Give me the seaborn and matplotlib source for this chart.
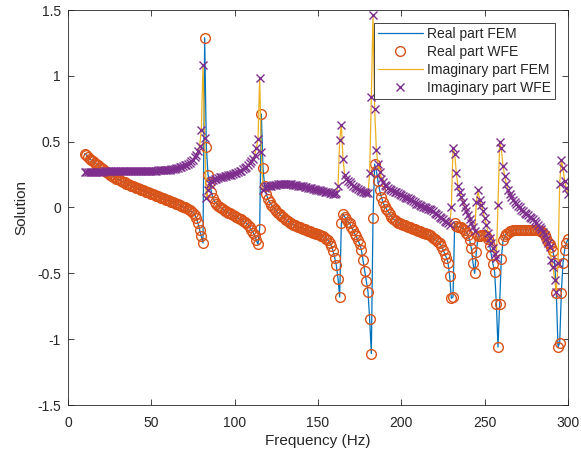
import numpy as np
import matplotlib
matplotlib.use('Agg')
import matplotlib.pyplot as plt
import seaborn as sns

# sampling grid: 10 Hz to 300 Hz, 1 Hz step
freq_hz = np.arange(10, 301)

# real part (FEM line and WFE circles lie on top of each other)
real_part = [
    0.41, 0.40, 0.385, 0.37, 0.36, 0.35, 0.34, 0.33, 0.32, 0.31,
    0.30, 0.29, 0.28, 0.27, 0.26, 0.25, 0.245, 0.235, 0.23, 0.22,
    0.215, 0.21, 0.20, 0.195, 0.19, 0.18, 0.175, 0.17, 0.165, 0.16,
    0.155, 0.15, 0.145, 0.14, 0.135, 0.13, 0.125, 0.12, 0.115, 0.11,
    0.105, 0.10, 0.095, 0.09, 0.085, 0.08, 0.075, 0.07, 0.065, 0.06,
    0.055, 0.05, 0.045, 0.04, 0.035, 0.03, 0.025, 0.02, 0.01, 0.005,
    0.0, -0.005, -0.01, -0.02, -0.03, -0.04, -0.055, -0.08, -0.12, -0.17,
    -0.22, -0.27, 1.29, 0.46, 0.25, 0.19, 0.12, 0.07, 0.045, 0.03,
    0.015, 0.005, -0.005, -0.015, -0.025, -0.03, -0.04, -0.045, -0.05, -0.06,
    -0.065, -0.07, -0.08, -0.085, -0.09, -0.10, -0.11, -0.12, -0.13, -0.15,
    -0.17, -0.19, -0.21, -0.25, -0.28, -0.16, 0.71, 0.30, 0.16, 0.10,
    0.065, 0.04, 0.02, 0.005, -0.01, -0.025, -0.04, -0.05, -0.065, -0.075,
    -0.085, -0.095, -0.105, -0.115, -0.12, -0.13, -0.135, -0.14, -0.145, -0.15,
    -0.155, -0.16, -0.165, -0.17, -0.175, -0.18, -0.185, -0.19, -0.195, -0.20,
    -0.205, -0.21, -0.215, -0.22, -0.23, -0.24, -0.25, -0.27, -0.29, -0.33,
    -0.38, -0.44, -0.54, -0.68, -0.12, -0.05, -0.07, -0.09, -0.11, -0.12,
    -0.15, -0.17, -0.20, -0.22, -0.25, -0.28, -0.32, -0.40, -0.48, -0.56,
    -0.64, -0.85, -1.11, -0.08, 0.33, 0.28, 0.20, 0.13, 0.08, 0.04,
    0.01, -0.01, -0.03, -0.05, -0.07, -0.085, -0.095, -0.105, -0.115, -0.12,
    -0.125, -0.13, -0.135, -0.14, -0.145, -0.15, -0.155, -0.16, -0.165, -0.17,
    -0.175, -0.18, -0.185, -0.19, -0.195, -0.20, -0.205, -0.21, -0.22, -0.23,
    -0.24, -0.25, -0.26, -0.27, -0.29, -0.32, -0.35, -0.38, -0.42, -0.52,
    -0.69, -0.68, -0.12, -0.14, -0.145, -0.15, -0.15, -0.16, -0.17, -0.19,
    -0.21, -0.25, -0.31, -0.42, -0.50, -0.34, -0.22, -0.22, -0.21, -0.21,
    -0.21, -0.22, -0.24, -0.29, -0.36, -0.43, -0.49, -0.73, -1.06, -0.73,
    -0.39, -0.25, -0.22, -0.20, -0.19, -0.18, -0.175, -0.17, -0.17, -0.17,
    -0.17, -0.17, -0.17, -0.17, -0.17, -0.17, -0.17, -0.17, -0.17, -0.17,
    -0.17, -0.17, -0.17, -0.175, -0.18, -0.19, -0.21, -0.23, -0.26, -0.28,
    -0.30, -0.33, -0.42, -0.65, -1.06, -1.03, -0.65, -0.42, -0.32, -0.27,
    -0.24,
]

# imaginary part (FEM line and WFE crosses)
imag_part = [
    0.27, 0.27, 0.27, 0.27, 0.27, 0.27, 0.27, 0.27, 0.27, 0.27,
    0.272, 0.272, 0.274, 0.274, 0.275, 0.275, 0.275, 0.276, 0.276, 0.276,
    0.277, 0.277, 0.278, 0.278, 0.278, 0.279, 0.279, 0.279, 0.28, 0.28,
    0.28, 0.28, 0.28, 0.28, 0.28, 0.28, 0.28, 0.28, 0.28, 0.28,
    0.28, 0.28, 0.281, 0.281, 0.282, 0.282, 0.283, 0.283, 0.284, 0.285,
    0.286, 0.288, 0.29, 0.292, 0.295, 0.298, 0.30, 0.305, 0.31, 0.315,
    0.32, 0.325, 0.33, 0.34, 0.35, 0.36, 0.38, 0.40, 0.43, 0.47,
    0.59, 1.08, 0.53, 0.07, 0.13, 0.18, 0.20, 0.21, 0.215, 0.22,
    0.225, 0.23, 0.23, 0.235, 0.24, 0.24, 0.245, 0.25, 0.25, 0.255,
    0.26, 0.26, 0.27, 0.275, 0.28, 0.29, 0.30, 0.31, 0.32, 0.335,
    0.35, 0.37, 0.40, 0.45, 0.52, 0.985, 0.42, 0.13, 0.15, 0.16,
    0.163, 0.165, 0.167, 0.17, 0.172, 0.174, 0.176, 0.178, 0.18, 0.18,
    0.18, 0.18, 0.18, 0.178, 0.176, 0.174, 0.172, 0.17, 0.167, 0.165,
    0.162, 0.16, 0.157, 0.154, 0.151, 0.148, 0.145, 0.142, 0.139, 0.136,
    0.133, 0.13, 0.127, 0.124, 0.121, 0.118, 0.115, 0.112, 0.11, 0.105,
    0.10, 0.11, 0.16, 0.51, 0.63, 0.37, 0.25, 0.22, 0.20, 0.19,
    0.175, 0.165, 0.155, 0.145, 0.14, 0.13, 0.125, 0.12, 0.115, 0.11,
    0.11, 0.26, 0.84, 1.46, 0.75, 0.44, 0.33, 0.27, 0.22, 0.19,
    0.17, 0.16, 0.15, 0.14, 0.13, 0.125, 0.12, 0.115, 0.11, 0.10,
    0.095, 0.09, 0.08, 0.075, 0.07, 0.065, 0.055, 0.05, 0.04, 0.03,
    0.025, 0.02, 0.01, 0.005, 0.0, -0.005, -0.01, -0.015, -0.02, -0.03,
    -0.04, -0.05, -0.06, -0.07, -0.08, -0.09, -0.10, -0.11, -0.12, -0.13,
    0.0, 0.45, 0.41, 0.26, 0.16, 0.12, 0.08, 0.04, 0.006, -0.025,
    -0.057, -0.09, -0.12, -0.15, -0.18, 0.04, 0.13, 0.06, 0.02, -0.03,
    -0.08, -0.13, -0.19, -0.23, -0.27, -0.31, -0.35, -0.38, 0.02, 0.50,
    0.45, 0.315, 0.24, 0.18, 0.13, 0.10, 0.08, 0.057, 0.04, 0.03,
    0.01, 0.0, -0.02, -0.03, -0.04, -0.05, -0.06, -0.07, -0.08, -0.09,
    -0.10, -0.115, -0.13, -0.146, -0.165, -0.185, -0.21, -0.24, -0.27, -0.30,
    -0.40, -0.45, -0.55, -0.64, -0.42, 0.18, 0.36, 0.30, 0.20, 0.15,
    0.10,
]

x_ticks = [0, 50, 100, 150, 200, 250, 300]
y_ticks = [-1.5, -1, -0.5, 0, 0.5, 1, 1.5]
y_tick_labels = ['-1.5', '-1', '-0.5', '0', '0.5', '1', '1.5']

# matlab default colours
BLUE = '#0072BD'
ORANGE = '#D95319'
YELLOW = '#EDB120'
PURPLE = '#7E2F8E'
AX_GREY = '#262626'


def main():
    sns.set_style('ticks')
    plt.rcParams['font.family'] = ['Liberation Sans', 'DejaVu Sans']

    fig = plt.figure(figsize=(5.81, 4.61), dpi=100)
    ax = fig.add_axes([68 / 581, 56 / 461, 500 / 581, 395 / 461])

    sns.lineplot(x=freq_hz, y=real_part, ax=ax, color=BLUE, lw=0.9,
                 sort=False, errorbar=None, label='Real part FEM')
    sns.lineplot(x=freq_hz, y=real_part, ax=ax, color=ORANGE,
                 linestyle='none', marker='o', ms=7, mfc='none',
                 mec=ORANGE, mew=1.0, sort=False, errorbar=None,
                 label='Real part WFE')
    sns.lineplot(x=freq_hz, y=imag_part, ax=ax, color=YELLOW, lw=0.9,
                 sort=False, errorbar=None, label='Imaginary part FEM')
    sns.lineplot(x=freq_hz, y=imag_part, ax=ax, color=PURPLE,
                 linestyle='none', marker='x', ms=5.5, mec=PURPLE, mew=1.0,
                 sort=False, errorbar=None, label='Imaginary part WFE')

    ax.set_xlim(0, 300)
    ax.set_ylim(-1.5, 1.5)
    ax.set_xticks(x_ticks)
    ax.set_yticks(y_ticks)
    ax.set_yticklabels(y_tick_labels)
    ax.set_xlabel('Frequency (Hz)', fontsize=11, color=AX_GREY, labelpad=3)
    ax.set_ylabel('Solution', fontsize=11, color=AX_GREY, labelpad=6)
    ax.tick_params(direction='in', length=4, width=0.6, top=True, right=True,
                   labelsize=10, colors=AX_GREY, pad=5)
    ax.tick_params(axis='x', pad=8)
    for side in ax.spines.values():
        side.set_visible(True)
        side.set_linewidth(0.6)
        side.set_color(AX_GREY)

    leg = ax.legend(loc='upper right', bbox_to_anchor=(0.974, 0.968),
                    borderaxespad=0, fancybox=False, fontsize=10,
                    handlelength=3.2, labelspacing=0.3, handletextpad=0.3,
                    borderpad=0.3, framealpha=1)
    leg.get_frame().set_edgecolor(AX_GREY)
    leg.get_frame().set_linewidth(0.6)

    fig.savefig('out.png', dpi=100, facecolor='white')


if __name__ == '__main__':
    main()
